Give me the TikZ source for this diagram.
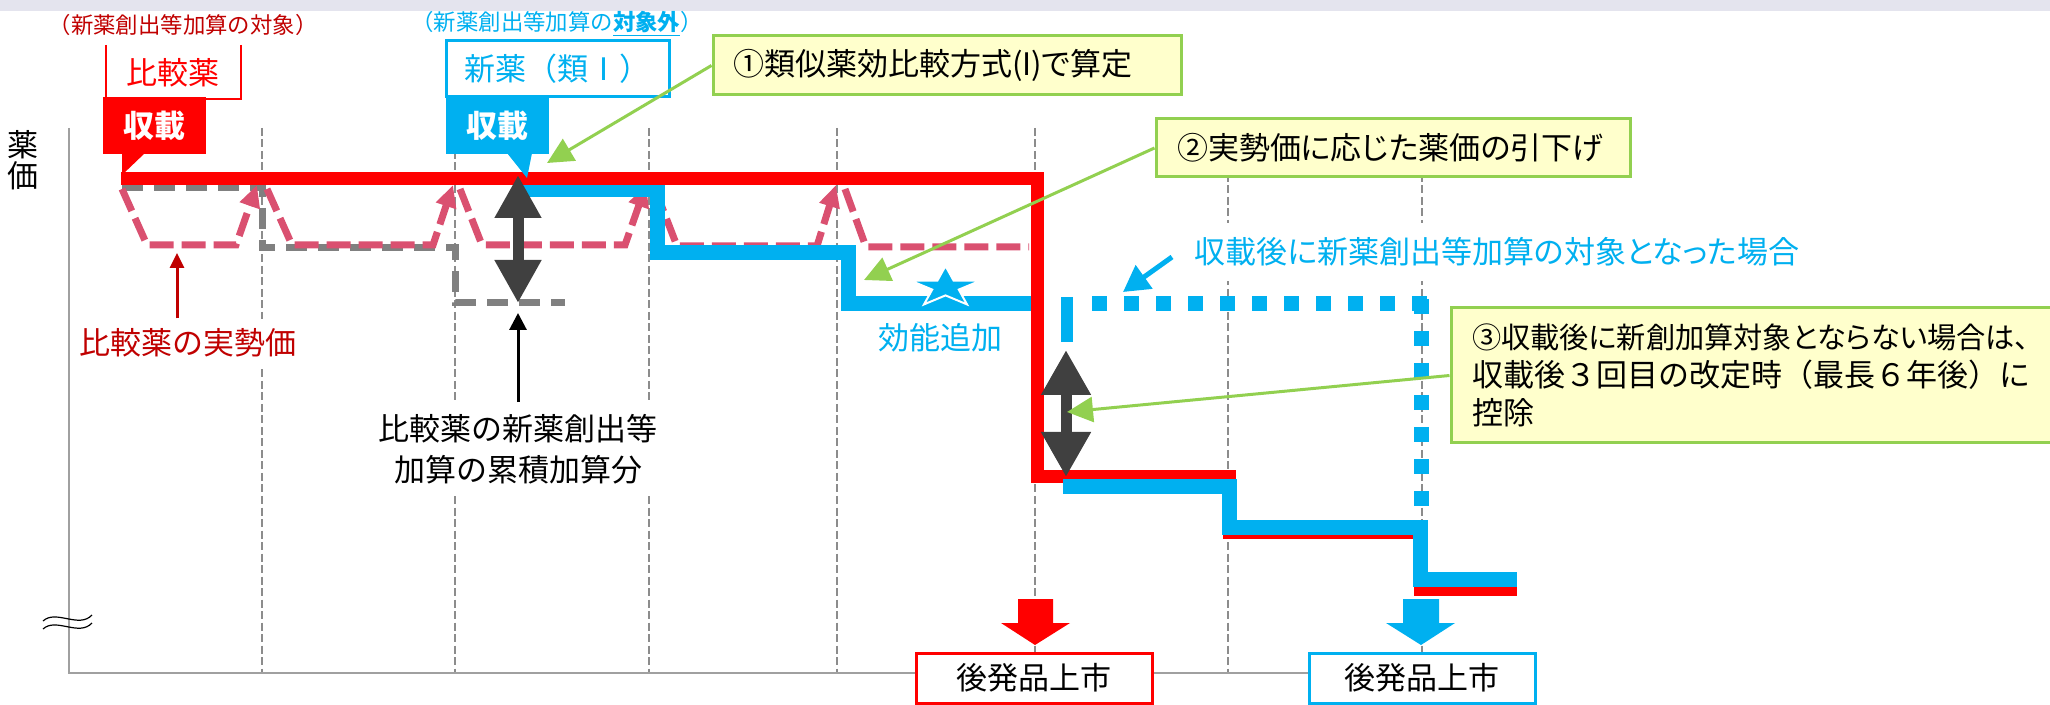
\documentclass[tikz,border=0pt]{standalone}
\usepackage{fontspec}
\newfontfamily\jp{Noto Sans CJK JP}
\newfontfamily\jpp[RawFeature=+palt]{Noto Sans CJK JP}
\usetikzlibrary{arrows.meta}
\definecolor{cred}{RGB}{255,0,0}
\definecolor{dred}{RGB}{192,0,0}
\definecolor{cblue}{RGB}{0,176,240}
\definecolor{cgreen}{RGB}{146,208,80}
\definecolor{cyel}{RGB}{255,255,204}
\definecolor{cpink}{RGB}{218,80,112}
\definecolor{cgray}{RGB}{128,128,128}
\definecolor{gridc}{RGB}{140,140,140}
\definecolor{dgray}{RGB}{64,64,64}
\definecolor{bandc}{RGB}{228,228,238}
\definecolor{axisc}{RGB}{160,160,160}
\begin{document}
\begin{tikzpicture}[x=0.5pt,y=-0.5pt,
  every node/.style={inner sep=0pt},
  jpf/.style={font=\jp\fontsize{15.5pt}{19pt}\selectfont},
  jppf/.style={font=\jpp\fontsize{15.5pt}{19pt}\selectfont},
  smallf/.style={font=\jp\fontsize{11.2pt}{13pt}\selectfont},
  boldf/.style={font=\jp\bfseries\fontsize{15.5pt}{19pt}\selectfont},
  gridline/.style={draw=gridc, line width=1pt, dash pattern=on 4pt off 1.75pt},
  gbox/.style={draw=cgreen, line width=1.5pt, fill=cyel, align=left, jppf},
  gconn/.style={draw=cgreen, line width=1.5pt, -{Triangle[length=13pt,width=12.5pt]}},
  dblarrowA/.style={draw=dgray, line width=5.5pt, {Triangle[length=21.5pt,width=22pt]}-{Triangle[length=21.5pt,width=22pt]}},
  dblarrowB/.style={draw=dgray, line width=5.5pt, {Triangle[length=22.5pt,width=23.5pt]}-{Triangle[length=22.5pt,width=23.5pt]}},
  pinkline/.style={draw=cpink, line width=3.5pt, dash pattern=on 12pt off 4pt},
  pinkarrow/.style={pinkline, -{Triangle[length=11pt,width=10pt]}},
  grayline/.style={draw=cgray, line width=3.5pt, dash pattern=on 10.5pt off 5.5pt},
  redline/.style={draw=cred, line width=6.5pt},
  blueline/.style={draw=cblue, line width=7.5pt},
  bluedot/.style={draw=cblue, line width=7.5pt, dash pattern=on 7.5pt off 8.5pt},
  launchbox/.style={fill=white, line width=1.5pt, minimum height=25pt, jpf}
]
\useasboundingbox (0,0) rectangle (2050,705);
\clip (0,0) rectangle (2050,705);
\fill[bandc] (0,0) rectangle (2050,11);

% grid
\foreach \gx in {262,455,649,837,1035,1228,1422} {
  \draw[gridline] (\gx,128) -- (\gx,673);
}
% axes
\draw[axisc, line width=1pt] (69,128) -- (69,673) -- (1309,673);
\draw[black, line width=0.6pt] (43,621) .. controls (56,609) and (79,629) .. (92,615);
\draw[black, line width=0.6pt] (43,629) .. controls (56,617) and (79,637) .. (92,623);
\node[jpf, align=center, font=\jp\fontsize{15.5pt}{15.5pt}\selectfont] (yl) at (23,160) {薬\\価};

% comparator cumulative (gray) and actual price (pink)
\draw[grayline] (122,188) -- (262,188) -- (262,248) -- (455,248) -- (455,303) -- (565,303);
\draw[pinkarrow] (122,189) -- (147,245) -- (236,245) -- (257,185);
\draw[pinkarrow] (267,189) -- (292,245) -- (433,245) -- (453,185);
\draw[pinkarrow] (460,189) -- (482,245) -- (625,245) -- (646,185);
\draw[pinkarrow] (655,189) -- (677,246) -- (817,246) -- (836,185);
\draw[pinkline] (845,189) -- (866,247) -- (1029,247);

% price lines
\draw[blueline] (523,189.5) -- (657,189.5) -- (657,252.5) -- (848,252.5) -- (848,304) -- (1040,304);
\draw[redline] (121,179) -- (1037,179) -- (1037,476) -- (1229,476) -- (1229,532) -- (1420,532) -- (1420,589) -- (1517,589);
\draw[blueline] (1063,486) -- (1229,486) -- (1229,527) -- (1420,527) -- (1420,579) -- (1517,579);
\draw[cblue, line width=6pt] (1067,297) -- (1067,342);
\draw[bluedot] (1092,304) -- (1428,304);
\draw[bluedot] (1421,299) -- (1421,510);

% star (flattened five-point star with white glow)
\draw[white, line width=1pt, fill=cblue, line join=miter] (945.5,266) -- (937.4,280.6) -- (910.5,280.6) -- (932.2,289.6) -- (924.0,304.4) -- (945.5,295.4) -- (967.0,304.4) -- (958.8,289.6) -- (980.5,280.6) -- (953.6,280.6) -- cycle;

% double arrows
\coordinate (da1t) at (518,175);
\coordinate (da1b) at (518,303);
\draw[dblarrowA] (da1t) -- (da1b);
\coordinate (da2t) at (1066,350);
\coordinate (da2b) at (1066,477);
\draw[dblarrowB] (da2t) -- (da2b);

% labels
\node[jpf, fill=white, text=dred, inner xsep=2pt, inner ysep=5pt] (jsk) at (188,343) {比較薬の実勢価};
\coordinate (jskt) at (177,253);
\draw[dred, line width=1.5pt, -{Triangle[length=7.5pt,width=7pt]}] (jsk.north -| jskt) -- (jskt);

\node[jpf, align=center, fill=white, inner xsep=2pt, inner ysep=6pt, font=\jp\fontsize{15.5pt}{20.5pt}\selectfont] (cum) at (518,449.5) {比較薬の新薬創出等\\加算の累積加算分};
\coordinate (cumt) at (518,313);
\draw[black, line width=1.5pt, -{Triangle[length=8.5pt,width=8.5pt]}] (cum.north) -- (cumt);

\node[jpf, text=cblue] (kn) at (940,338) {効能追加};

\node[jppf, anchor=west, fill=white, text=cblue, inner xsep=2pt, inner ysep=7.5pt] (bl) at (1190,252) {収載後に新薬創出等加算の対象となった場合};
\coordinate (bls) at (1172,257);
\coordinate (blt) at (1123,292);
\draw[cblue, line width=2.5pt, -{Triangle[length=13pt,width=14pt]}] (bls) -- (blt);

% top titles
\node[smallf, text=dred] (t1) at (183,25) {（新薬創出等加算の対象）};
\node[smallf, text=cblue] (t2) at (557,24) {（新薬創出等加算の{\bfseries\underline{対象外}}）};

% comparator bracket and callout
\draw[cred, line width=1.3pt] (106,45) -- (106,97);
\draw[cred, line width=1.3pt] (241,45) -- (241,99) -- (205,99);
\node[jpf, text=cred] (hk) at (173,73) {比較薬};
\node[boldf, fill=cred, text=white, minimum width=51.5pt, minimum height=28.5pt] (rs) at (154.5,125.5) {収載};
\fill[cred] (122,153) -- (145,153) -- (122,175) -- cycle;

% new drug box and callout
\node[jpf, draw=cblue, line width=1.5pt, fill=white, text=cblue, minimum width=111.5pt, minimum height=28pt] (nb) at (557.5,69) {新薬（類Ⅰ）};
\node[boldf, fill=cblue, text=white, minimum width=51.5pt, minimum height=28.5pt] (bs) at (497.5,125.5) {収載};
\fill[cblue] (507,153) -- (532,153) -- (527,178) -- cycle;

% generic launch
\fill[cred] (1018,599) -- (1053,599) -- (1053,623) -- (1070,623) -- (1035,645) -- (1001,623) -- (1018,623) -- cycle;
\fill[cblue] (1403,599) -- (1439,599) -- (1439,623) -- (1455,623) -- (1421,645) -- (1386,623) -- (1403,623) -- cycle;
\node[launchbox, draw=cred, minimum width=118pt] (gr) at (1034,678) {後発品上市};
\node[launchbox, draw=cblue, minimum width=113pt] (gb) at (1422,678) {後発品上市};

% green callouts
\node[gbox, text width=214pt, inner xsep=10pt, minimum height=29.5pt] (b1) at (947,65.5) {①類似薬効比較方式(I)で算定};
\coordinate (g1t) at (547,163);
\draw[gconn] (b1.west) -- (g1t);

\node[gbox, text width=216pt, inner xsep=10.5pt, minimum height=29pt] (b2) at (1393,148) {②実勢価に応じた薬価の引下げ};
\coordinate (g2t) at (864,280);
\draw[gconn] (b2.west) -- (g2t);

\node[gbox, jpf, text width=288.5pt, inner xsep=10.5pt, minimum height=67.5pt] (b3) at (1760.5,375.5) {{\jpp\fontsize{14.6pt}{19pt}\selectfont ③収載後に新創加算対象とならない場合は、}\\収載後３回目の改定時（最長６年後）に\\控除};
\coordinate (g3t) at (1067,412);
\draw[gconn] (b3.west) -- (g3t);
\end{tikzpicture}
\end{document}
